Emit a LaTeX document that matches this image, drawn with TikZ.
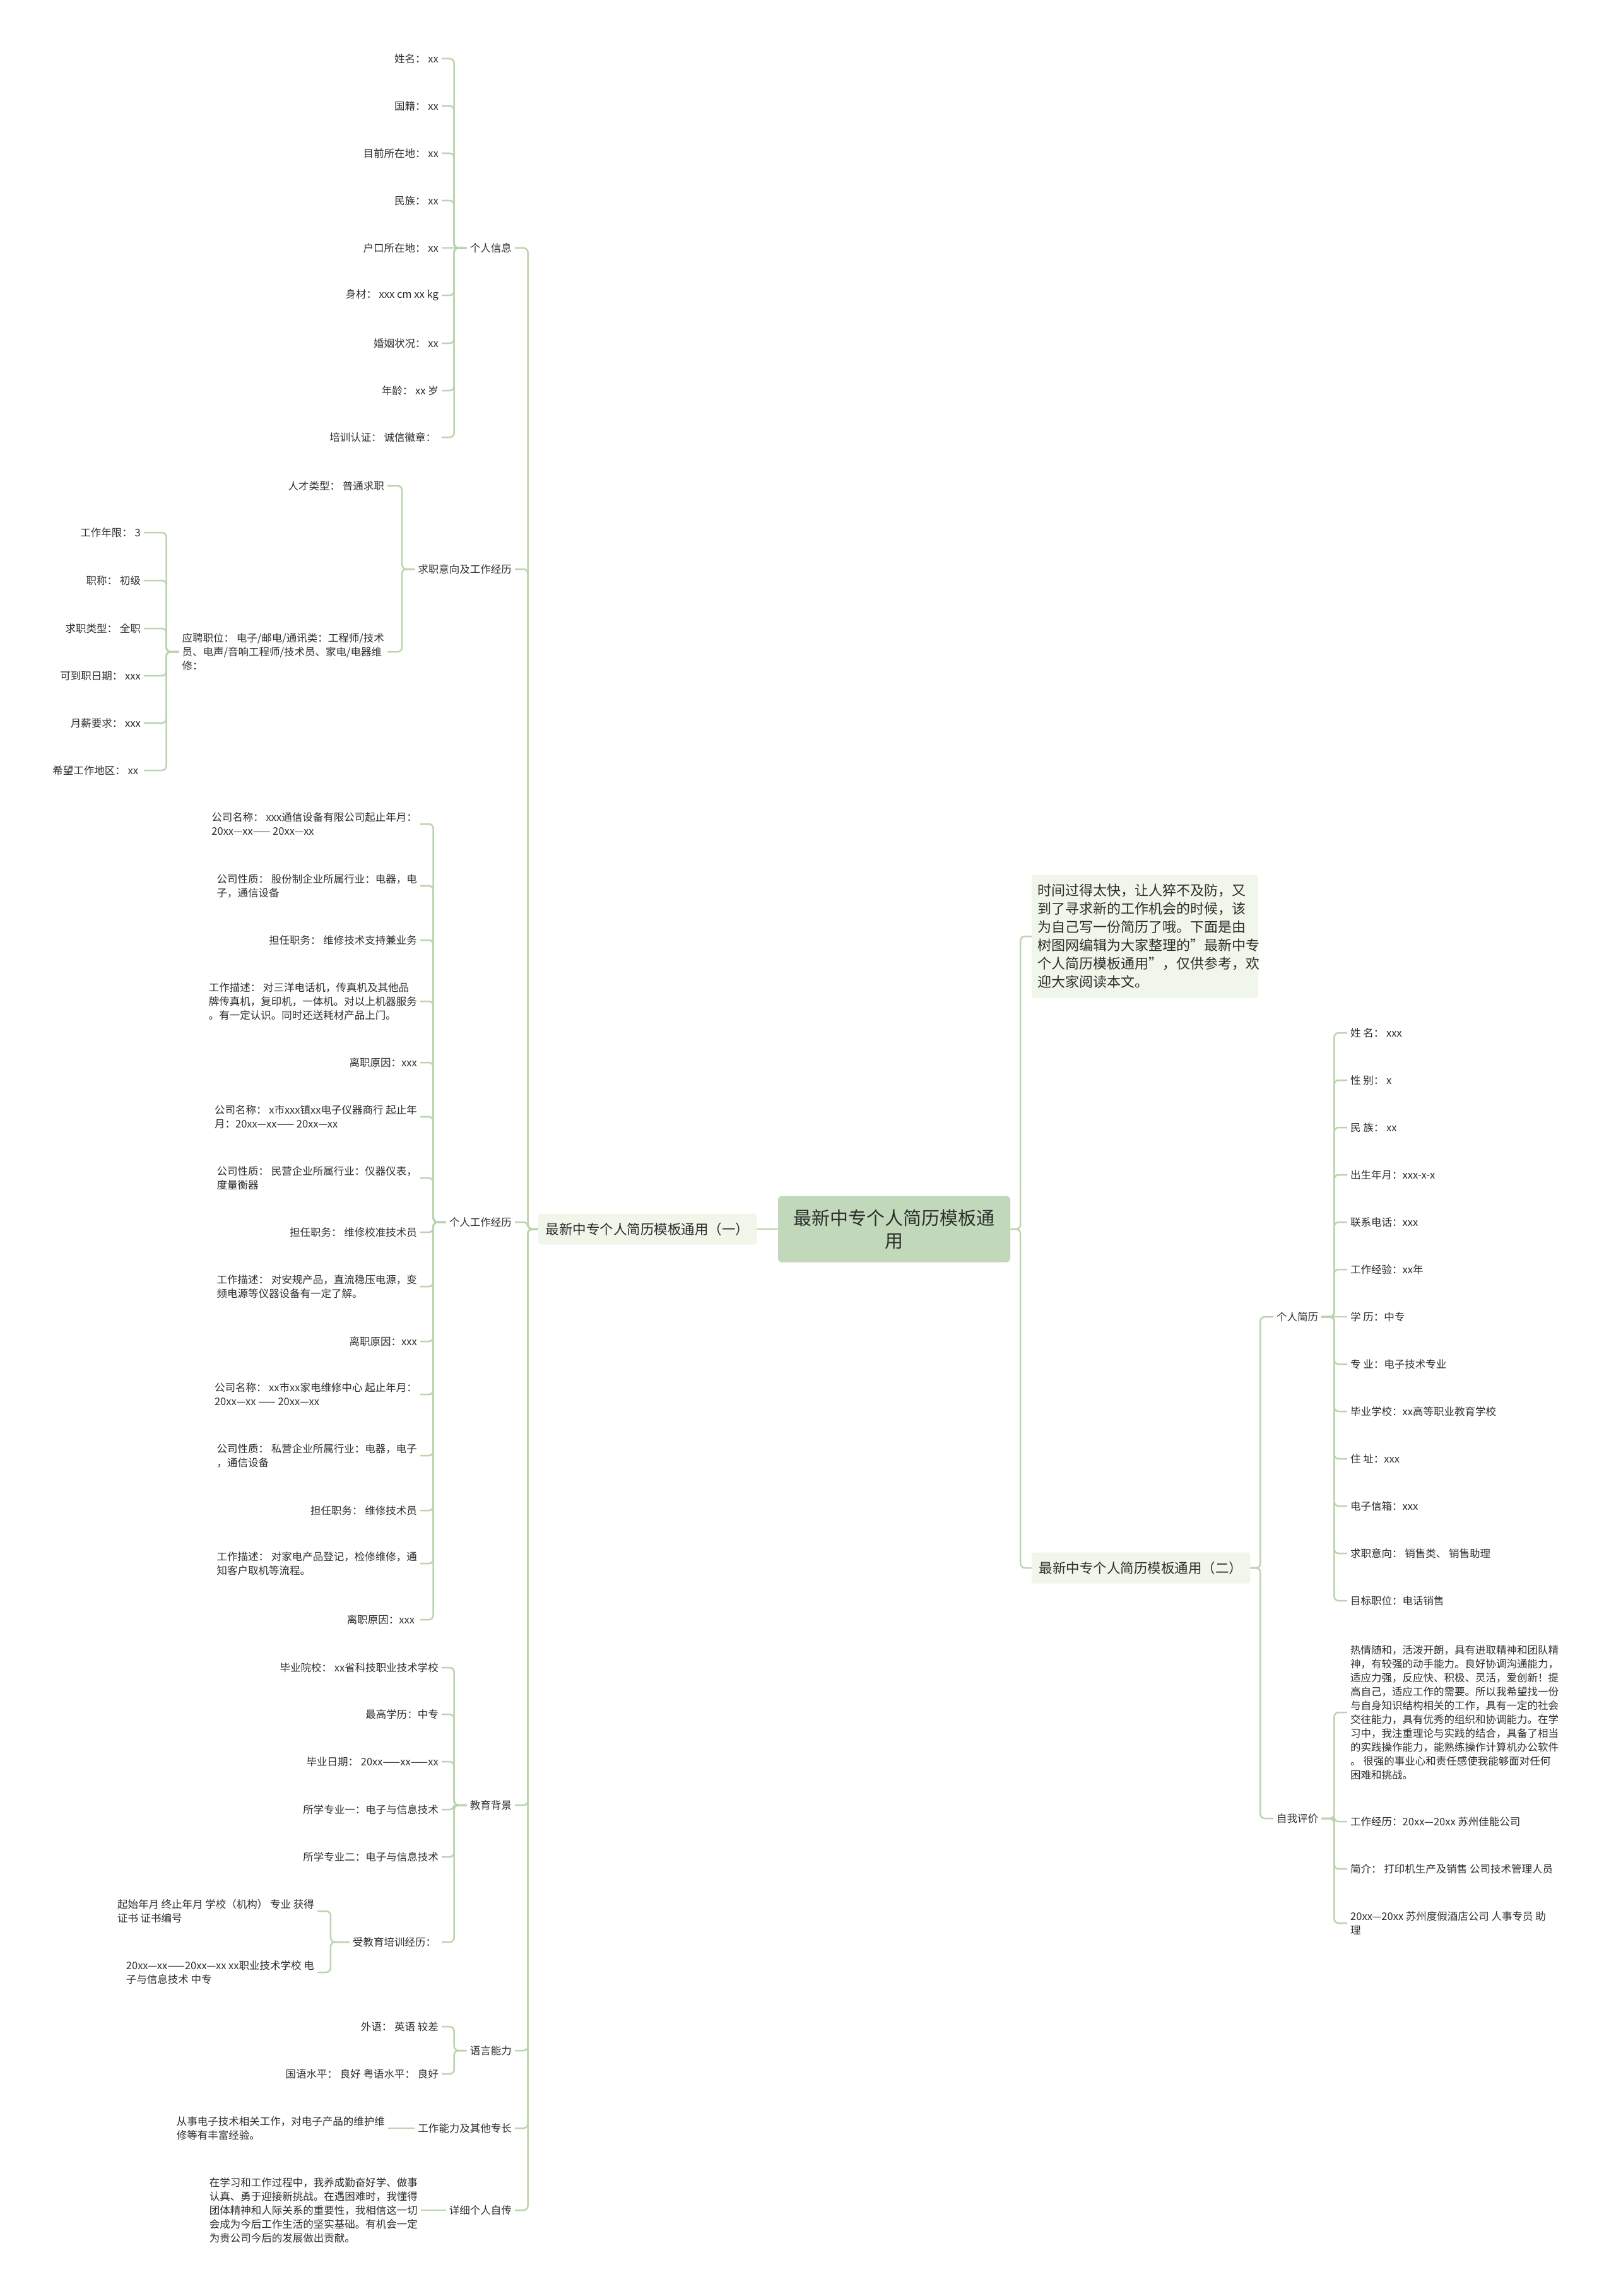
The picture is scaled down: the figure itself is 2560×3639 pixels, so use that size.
\documentclass[tikz,border=0pt]{standalone}
\usepackage{fontspec}
\setmainfont{Noto Sans CJK SC}
\definecolor{linkgreen}{RGB}{186,212,174}
\definecolor{rootgreen}{RGB}{193,217,186}
\definecolor{palegreen}{RGB}{240,246,234}
\definecolor{textgray}{RGB}{45,45,45}
\tikzset{
	link/.style={draw=linkgreen, line width=2.5pt, rounded corners=7pt},
	leaf/.style={font=\fontsize{16.5}{22}\selectfont, text=textgray, align=left, inner xsep=5pt, inner ysep=2pt},
	rleaf/.style={leaf, font=\fontsize{16.5}{22}\selectfont},
	branch/.style={font=\fontsize{16.5}{22}\selectfont, text=textgray, inner xsep=5pt},
	topic/.style={fill=palegreen, rounded corners=4pt, font=\fontsize{21.5}{29}\selectfont, text=textgray, inner xsep=12pt, minimum height=49pt},
	root/.style={fill=rootgreen, rounded corners=6pt, font=\fontsize{29}{36}\selectfont, text=textgray, align=center, minimum width=368pt, minimum height=105pt}
}
\begin{document}
\begin{tikzpicture}[x=1pt, y=-1pt]
	\useasboundingbox[fill=white] (0,0) rectangle (2560,3639);
	%centre
	\node[root] (root) at (1417,1948) {最新中专个人简历模板通\\用};
	\node[topic] (one) at (1026,1948) {最新中专个人简历模板通用（一）};
	\node[topic] (two) at (1808,2485) {最新中专个人简历模板通用（二）};
	\node[topic, anchor=west, text width=341pt, inner xsep=9pt, align=left, font=\fontsize{22}{29}\selectfont, minimum height=195pt] (intro) at (1635,1484) {时间过得太快，让人猝不及防，又\\到了寻求新的工作机会的时候，该\\为自己写一份简历了哦。下面是由\\树图网编辑为大家整理的"最新中专\\个人简历模板通用"，仅供参考，欢\\迎大家阅读本文。};
	\draw[link] (one.east) -- (root.west);
	\draw[link] (root.east) -- ++(16,0) |- (intro.west);
	\draw[link] (root.east) -- ++(16,0) |- (two.west);
	
	%left branches
	\foreach \y/\bname/\btext in {393/pinfo/个人信息, 902/intent/求职意向及工作经历, 1937/work/个人工作经历, 2861/edu/教育背景, 3250/lang/语言能力, 3373/skill/工作能力及其他专长, 3503/bio/详细个人自传}
	{
		\node[branch, anchor=east] (\bname) at (816,\y) {\btext};
		\draw[link] (one.west) -- ++(-16,0) |- (\bname.east);
	}
	
	%personal info
	\foreach \y/\ltext [count=\i] in {
		93/{姓名： xx},
		168/{国籍： xx},
		243/{目前所在地： xx},
		318/{民族： xx},
		393/{户口所在地： xx},
		468/{身材： xxx cm xx kg},
		544/{婚姻状况： xx},
		619/{年龄： xx 岁},
		693/{培训认证： 诚信徽章：}
	}
	{
		\node[leaf, anchor=east] (pinfo\i) at (700,\y) {\ltext};
		\ifnum\i=5 \draw[link] (pinfo.west) -- (pinfo\i.east);
		\else \draw[link] (pinfo.west) -- ++(-20,0) |- (pinfo\i.east); \fi
	}
	
	%intent
	\node[leaf, anchor=east] (talent) at (614,770) {人才类型： 普通求职};
	\node[leaf, anchor=east] (apply) at (614,1033) {应聘职位： 电子/邮电/通讯类：工程师/技术\\员、电声/音响工程师/技术员、家电/电器维\\修：};
	\draw[link] (intent.west) -- ++(-20,0) |- (talent.east);
	\draw[link] (intent.west) -- ++(-20,0) |- (apply.east);
	\foreach \y/\ltext [count=\i] in {
		844/{工作年限： 3},
		920/{职称： 初级},
		996/{求职类型： 全职},
		1071/{可到职日期： xxx},
		1146/{月薪要求： xxx},
		1221/{希望工作地区： xx}
	}
	{
		\node[leaf, anchor=east] (apply\i) at (228,\y) {\ltext};
		\draw[link] (apply.west) -- ++(-20,0) |- (apply\i.east);
	}
	
	%work
	\foreach \y/\ltext [count=\i] in {
		1306/{公司名称： xxx通信设备有限公司起止年月：\\20xx—xx—— 20xx—xx},
		1404/{公司性质： 股份制企业所属行业：电器，电\\子，通信设备},
		1490/{担任职务： 维修技术支持兼业务},
		1587/{工作描述： 对三洋电话机，传真机及其他品\\牌传真机，复印机，一体机。对以上机器服务\\。有一定认识。同时还送耗材产品上门。},
		1684/{离职原因：xxx},
		1770/{公司名称： x市xxx镇xx电子仪器商行 起止年\\月：20xx—xx—— 20xx—xx},
		1867/{公司性质： 民营企业所属行业：仪器仪表，\\度量衡器},
		1953/{担任职务： 维修校准技术员},
		2039/{工作描述： 对安规产品，直流稳压电源，变\\频电源等仪器设备有一定了解。},
		2126/{离职原因：xxx},
		2210/{公司名称： xx市xx家电维修中心 起止年月：\\20xx—xx —— 20xx—xx},
		2307/{公司性质： 私营企业所属行业：电器，电子\\，通信设备},
		2394/{担任职务： 维修技术员},
		2478/{工作描述： 对家电产品登记，检修维修，通\\知客户取机等流程。},
		2567/{离职原因：xxx}
	}
	{
		\node[leaf, anchor=east] (work\i) at (666,\y) {\ltext};
		\draw[link] (work.west) -- ++(-20,0) |- (work\i.east);
	}
	
	%education
	\foreach \y/\ltext [count=\i] in {
		2643/{毕业院校： xx省科技职业技术学校},
		2717/{最高学历：中专},
		2792/{毕业日期： 20xx——xx——xx},
		2868/{所学专业一：电子与信息技术},
		2943/{所学专业二：电子与信息技术},
		3078/{受教育培训经历：}
	}
	{
		\node[leaf, anchor=east] (edu\i) at (700,\y) {\ltext};
		\draw[link] (edu.west) -- ++(-20,0) |- (edu\i.east);
	}
	\node[leaf, anchor=east] (trainA) at (503,3029) {起始年月 终止年月 学校（机构） 专业 获得\\证书 证书编号};
	\node[leaf, anchor=east] (trainB) at (503,3126) {20xx—xx——20xx—xx xx职业技术学校 电\\子与信息技术 中专};
	\draw[link] (edu6.west) -- ++(-30,0) |- (trainA.east);
	\draw[link] (edu6.west) -- ++(-30,0) |- (trainB.east);
	
	%language, skills, bio
	\node[leaf, anchor=east] (langA) at (700,3212) {外语： 英语 较差};
	\node[leaf, anchor=east] (langB) at (700,3287) {国语水平： 良好 粤语水平： 良好};
	\draw[link] (lang.west) -- ++(-20,0) |- (langA.east);
	\draw[link] (lang.west) -- ++(-20,0) |- (langB.east);
	\node[leaf, anchor=east] (skillnote) at (615,3373) {从事电子技术相关工作，对电子产品的维护维\\修等有丰富经验。};
	\draw[link] (skill.west) -- (skillnote.east);
	\node[leaf, anchor=east] (bionote) at (667,3503) {在学习和工作过程中，我养成勤奋好学、做事\\认真、勇于迎接新挑战。在遇困难时，我懂得\\团体精神和人际关系的重要性，我相信这一切\\会成为今后工作生活的坚实基础。有机会一定\\为贵公司今后的发展做出贡献。};
	\draw[link] (bio.west) -- (bionote.east);
	
	%right branches
	\node[branch, anchor=west] (resume) at (2018,2087) {个人简历};
	\node[branch, anchor=west] (selfeval) at (2018,2882) {自我评价};
	\draw[link] (two.east) -- ++(16,0) |- (resume.west);
	\draw[link] (two.east) -- ++(16,0) |- (selfeval.west);
	
	%resume
	\foreach \ltext [count=\i] in {
		{姓 名： xxx},
		{性 别： x},
		{民 族： xx},
		{出生年月：xxx-x-x},
		{联系电话：xxx},
		{工作经验：xx年},
		{学 历：中专},
		{专 业：电子技术专业},
		{毕业学校：xx高等职业教育学校},
		{住 址：xxx},
		{电子信箱：xxx},
		{求职意向： 销售类、 销售助理},
		{目标职位：电话销售}
	}
	{
		\node[rleaf, anchor=west] (resume\i) at (2135,1562+75*\i) {\ltext};
		\ifnum\i=7 \draw[link] (resume.east) -- (resume\i.west);
		\else \draw[link] (resume.east) -- ++(20,0) |- (resume\i.west); \fi
	}
	
	%self evaluation
	\node[rleaf, anchor=west] (selfA) at (2135,2714) {热情随和，活泼开朗，具有进取精神和团队精\\神，有较强的动手能力。良好协调沟通能力，\\适应力强，反应快、积极、灵活，爱创新！提\\高自己，适应工作的需要。所以我希望找一份\\与自身知识结构相关的工作，具有一定的社会\\交往能力，具有优秀的组织和协调能力。在学\\习中，我注重理论与实践的结合，具备了相当\\的实践操作能力，能熟练操作计算机办公软件\\。 很强的事业心和责任感使我能够面对任何\\困难和挑战。};
	\node[rleaf, anchor=west] (selfB) at (2135,2887) {工作经历：20xx—20xx 苏州佳能公司};
	\node[rleaf, anchor=west] (selfC) at (2135,2962) {简介： 打印机生产及销售 公司技术管理人员};
	\node[rleaf, anchor=west] (selfD) at (2135,3048) {20xx—20xx 苏州度假酒店公司 人事专员 助\\理};
	\foreach \leafname in {selfA, selfB, selfC, selfD}
		\draw[link] (selfeval.east) -- ++(20,0) |- (\leafname.west);
\end{tikzpicture}
\end{document}
